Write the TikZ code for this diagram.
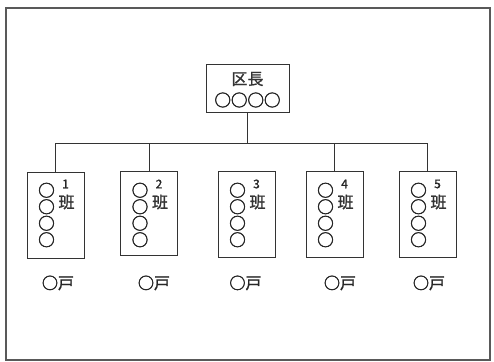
\documentclass[tikz,border=0pt]{standalone}
\usepackage{fontspec}
\setmainfont{Noto Sans CJK JP}
\newfontfamily\jpm{Noto Sans CJK JP}[FakeBold=1.2]
\newfontfamily\jpc{Noto Sans CJK JP}[FakeBold=2.5]
\begin{document}
\begin{tikzpicture}[x=1pt,y=-1pt,
  box/.style={draw=black!80,line width=0.8pt,inner sep=0pt,minimum width=57pt,minimum height=86pt},
  topbox/.style={draw=black!80,line width=0.8pt,inner sep=0pt,minimum width=83pt,minimum height=48pt},
  conn/.style={draw=black!80,line width=0.8pt},
  txt/.style={inner sep=0pt,text=black!80,font=\fontsize{16}{16}\selectfont\jpm},
  circ/.style={inner sep=0pt,text=black!85,font=\fontsize{16.5}{16.5}\selectfont\jpc},
  col/.style={inner sep=0pt,text=black!85,align=center,font=\fontsize{16.5}{16.5}\selectfont\jpc},
  num/.style={inner sep=0pt,text=black!85,font=\fontsize{12}{12}\selectfont\jpm},
  lab/.style={inner sep=0pt,text=black!85,font=\fontsize{16}{16}\selectfont\jpm}]
\useasboundingbox (0,0) rectangle (494,361);
\draw[black!65,line width=1.4pt] (6,8) rectangle (490,360);
% top box
\node[topbox] (top) at (247.5,88) {};
\node[txt] (kucho) at (247.5,79) {区長};
\node[circ] (tc) at (247.5,100) {○○○○};
% children
\foreach \i/\cx/\cy/\h in {1/55.5/215/86,2/149/213/84,3/246.5/214/86,4/334.5/214/86,5/427.5/214/86}{
  \node[box,minimum height=\h pt] (b\i) at (\cx,\cy) {};
  \node[col] (c\i) at (\cx-9,215) {○\\○\\○\\○};
  \node[num] (n\i) at (\cx+10,184) {\i};
  \node[txt] (h\i) at (\cx+11,202) {班};
}
\foreach \i/\lx in {1/58,2/154,3/245.5,4/340,5/429}{
  \node[lab] (l\i) at (\lx,283) {{\jpc○}戸};
}
% connectors
\coordinate (j) at (247.5,143);
\coordinate (jl) at (b1.north |- j);
\coordinate (jr) at (b5.north |- j);
\draw[conn] (top.south) -- (j);
\draw[conn] (b1.north) -- (jl) -- (jr) -- (b5.north);
\draw[conn] (b2.north) -- (b2.north |- j);
\draw[conn] (b4.north) -- (b4.north |- j);
\end{tikzpicture}
\end{document}
